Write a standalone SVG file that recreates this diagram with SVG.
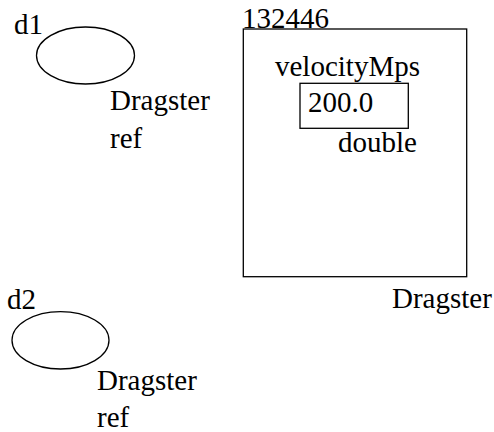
<svg xmlns="http://www.w3.org/2000/svg" width="494" height="432" viewBox="0 0 494 432">
<style>
.s{fill:none;stroke:#000;stroke-width:1.3}
text{font-family:"Times New Roman","Liberation Serif",Times,serif;font-size:29px;fill:#000}
</style>
<rect width="494" height="432" fill="#fff"/>
<g id="d1">
<ellipse class="s" cx="85.5" cy="55.5" rx="49" ry="28.5"/>
<text x="14" y="34">d1</text>
<text x="110" y="110">Dragster</text>
<text x="110" y="148">ref</text>
</g>
<g id="d2">
<ellipse class="s" cx="60.5" cy="340.3" rx="48.5" ry="28.7"/>
<text x="7" y="309">d2</text>
<text x="97" y="390">Dragster</text>
<text x="97" y="427">ref</text>
</g>
<g id="obj132446">
<rect class="s" x="243.3" y="29" width="223.4" height="247.7"/>
<text x="242" y="28">132446</text>
<text x="392" y="308">Dragster</text>
<g id="velocityMps">
<text x="275" y="76">velocityMps</text>
<rect class="s" x="300" y="83.3" width="108.3" height="45"/>
<text x="308" y="111.7">200.0</text>
<text x="338" y="151.7">double</text>
</g>
</g>
<g id="connectors"></g>
</svg>
